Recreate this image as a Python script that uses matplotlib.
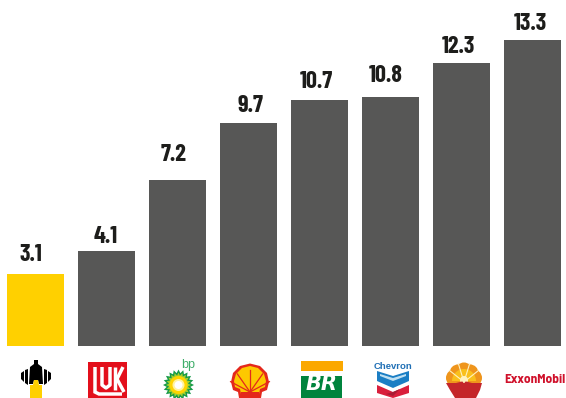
import numpy as np
import matplotlib
matplotlib.use("Agg")
import matplotlib.pyplot as plt
from matplotlib.patches import Polygon, Rectangle, Circle, Wedge, Ellipse

companies = ["Rosneft", "Lukoil", "BP", "Shell", "Petrobras", "Chevron", "CNPC", "ExxonMobil"]
values = [3.1, 4.1, 7.2, 9.7, 10.7, 10.8, 12.3, 13.3]
labels = ["3.1", "4.1", "7.2", "9.7", "10.7", "10.8", "12.3", "13.3"]
bar_colors = ["#ffd000"] + ["#575756"] * 7

# Hand placement of each value label relative to the top centre of its bar, in pixels
label_dx = [-4.5, -0.5, -3.5, 1.5, -3.5, -4.5, -3.5, -2.5]
label_dy = [13, 8, 19, 11, 12, 15, 10, 10]

W, H = 566, 398
BASE = 345.7
NARROW = ["Barlow Condensed", "Fira Sans Condensed", "DejaVu Sans"]
fig = plt.figure(figsize=(W / 100, H / 100), dpi=100, facecolor="white")

# Bars: 71 px pitch, 23 px per unit
ax = fig.add_axes([0, (H - BASE) / H, 1, BASE / H])
ax.bar(range(len(values)), values, width=57 / 71, color=bar_colors, linewidth=0)
ax.set_xlim(-0.5, W / 71 - 0.5)
ax.set_ylim(0, BASE / 23)
ax.axis("off")
for i, (v, t) in enumerate(zip(values, labels)):
    ax.annotate(t, (i, v), xytext=(label_dx[i], label_dy[i]), textcoords="offset pixels",
                ha="center", va="baseline", fontsize=17.5, fontweight="bold",
                family=NARROW, color="#1d1d1b")

# Logo strip, drawn in pixel coordinates with y running downward
lg = fig.add_axes([0, 0, 1, 1], zorder=3)
lg.set_xlim(0, W)
lg.set_ylim(H, 0)
lg.axis("off")
lg.patch.set_alpha(0)


def poly(pts, color, **kw):
    lg.add_patch(Polygon(pts, closed=True, facecolor=color, edgecolor="none", **kw))


def rect(x0, y0, x1, y1, color):
    lg.add_patch(Rectangle((x0, y0), x1 - x0, y1 - y0, facecolor=color, edgecolor="none"))


# Rosneft
poly([(34, 360), (38, 360), (38, 364), (42, 367), (43, 384), (39, 384), (38, 380), (34, 380),
      (33, 384), (29, 384), (30, 367), (34, 364)], "black")
poly([(21, 373), (24, 371), (24, 382), (21, 379)], "black")
poly([(25, 370), (28, 369), (28, 385), (25, 383)], "black")
poly([(51, 373), (48, 371), (48, 382), (51, 379)], "black")
poly([(47, 370), (44, 369), (44, 385), (47, 383)], "black")
poly([(30, 385), (33, 385), (34, 380), (38, 380), (39, 385), (42, 385), (42, 398), (30, 398)], "#ffd000")

# Lukoil
rect(88, 362, 127, 398, "#e30f1b")
lg.plot([95, 95, 99, 122], [367, 392, 394, 394], color="white", lw=2.5, solid_capstyle="butt", solid_joinstyle="miter")
lg.plot([102, 102, 106, 110, 110], [367, 385, 388, 385, 367], color="white", lw=2.5, solid_capstyle="butt")
lg.plot([115, 115], [367, 390], color="white", lw=2.5, solid_capstyle="butt")
lg.plot([123, 117, 124], [367, 379, 392], color="white", lw=2.5, solid_capstyle="butt", solid_joinstyle="miter")

# BP
cx, cy = 178.5, 385
ang = np.linspace(0, 2 * np.pi, 41)[:-1]
rad = np.where(np.arange(40) % 2 == 0, 15.5, 12)
poly(np.c_[cx + rad * np.cos(ang), cy + rad * np.sin(ang)], "#159a48")
rad = np.where(np.arange(40) % 2 == 0, 12.5, 9.5)
poly(np.c_[cx + rad * np.cos(ang), cy + rad * np.sin(ang)], "#a8cf2a")
lg.add_patch(Circle((cx, cy), 9, facecolor="#ffd400", edgecolor="none"))
lg.add_patch(Circle((cx, cy), 6, facecolor="#fff3a0", edgecolor="none"))
lg.add_patch(Circle((cx, cy), 4, facecolor="white", edgecolor="none"))
lg.text(188.5, 365, "bp", color="#3fae6a", fontsize=9, ha="center", va="center",
        family="Liberation Sans")

# Shell
poly([(239, 398), (238, 392), (233, 390), (231, 382), (233, 373), (240, 366), (250, 363.5),
      (260, 366), (267, 373), (269, 382), (267, 390), (262, 392), (261, 398)], "#e4281c")
poly([(241, 394), (240, 389), (235, 387), (234, 381), (236, 374), (242, 368), (250, 366),
      (258, 368), (264, 374), (266, 381), (265, 387), (260, 389), (259, 394)], "#fdc800")
for a in [-152, -125, -90, -55, -28]:
    t = np.deg2rad(a)
    lg.plot([250, 250 + 22 * np.cos(t)], [392, 392 + 22 * np.sin(t)], color="#e4281c", lw=0.9)
rect(241, 392, 259, 394, "#e4281c")

# Petrobras
rect(301, 361, 343, 371, "#fba800")
rect(301, 376, 342, 398, "#00843d")
lg.text(321.5, 384.5, "BR", color="white", fontsize=15, fontweight="bold", fontstyle="italic",
        ha="center", va="center", family="DejaVu Sans")

# Chevron
lg.text(393, 366.5, "Chevron", color="#1f6fb5", fontsize=6.8, fontweight="bold", ha="center",
        va="center", family="Liberation Sans")
poly([(377, 371), (393, 376), (409, 371), (409, 381), (393, 388), (377, 381)], "#1b7ec4")
poly([(380, 374), (393, 378), (406, 374), (406, 376), (393, 381), (380, 376)], "#bfe0f2")
poly([(377, 385), (393, 392), (409, 385), (409, 393), (393, 398), (377, 393)], "#d91f3c")
poly([(393, 392), (400, 389), (393, 396), (386, 394)], "#a81c34")

# CNPC
cx, cy = 464, 381
lg.add_patch(Circle((cx, cy), 14, facecolor="#ef951c", edgecolor="none"))
edges = np.linspace(180, 360, 6)
for a0, a1 in zip(edges[:-1], edges[1:]):
    mid = np.deg2rad((a0 + a1) / 2)
    lg.add_patch(Ellipse((cx + 10 * np.cos(mid), cy + 10 * np.sin(mid)), 17, 17,
                         facecolor="#ef951c", edgecolor="none"))
lg.add_patch(Wedge((cx, cy), 12, 180, 360, facecolor="#f9c01c", edgecolor="none"))
for a in edges[1:-1]:
    t = np.deg2rad(a)
    lg.plot([cx, cx + 18 * np.cos(t)], [cy + 1, cy + 18 * np.sin(t)], color="#fff2c0", lw=0.8)
lg.add_patch(Circle((cx, cy - 1), 4, facecolor="#fff2c0", edgecolor="none"))
poly([(446, 383), (456, 383), (464, 381), (472, 383), (482, 383), (480, 390), (476, 398),
      (455, 398), (450, 390)], "#c4262a")

# ExxonMobil wordmark
lg.text(535, 379.5, "ExxonMobil", color="#d0112b", fontsize=9.6, fontweight="bold", ha="center",
        va="center", family=["Barlow Semi Condensed"] + NARROW)

fig.savefig("out.png", dpi=100, facecolor="white")
